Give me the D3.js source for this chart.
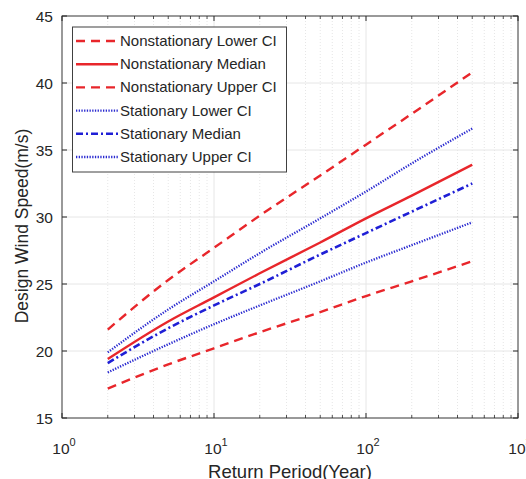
<!DOCTYPE html>
<html><head><meta charset="utf-8">
<script src="https://cdn.jsdelivr.net/npm/d3@7"></script>
<style>body{margin:0;background:#fff}svg{display:block}text{font-family:"Liberation Sans",Arial,sans-serif}</style>
</head><body>
<script>
const returnPeriods = [2, 5, 10, 20, 50, 100, 200, 500];
const nsLower  = [17.2, 19.0, 20.2, 21.4, 22.9, 24.1, 25.2, 26.7];
const nsMedian = [19.4, 22.2, 24.0, 25.8, 28.1, 29.9, 31.6, 33.9];
const nsUpper  = [21.6, 25.3, 27.7, 30.1, 33.1, 35.4, 37.7, 40.8];
const stLower  = [18.4, 20.5, 22.0, 23.4, 25.2, 26.6, 27.9, 29.6];
const stMedian = [19.1, 21.7, 23.4, 25.0, 27.2, 28.8, 30.4, 32.5];
const stUpper  = [19.9, 23.1, 25.2, 27.3, 29.9, 31.9, 34.0, 36.6];
const yTicks = [15, 20, 25, 30, 35, 40, 45];
const xTickExps = [0, 1, 2, 3];
const seriesNames = ["Nonstationary Lower CI","Nonstationary Median","Nonstationary Upper CI","Stationary Lower CI","Stationary Median","Stationary Upper CI"];

const W = 526, H = 479;
const m = {l: 62, r: 8, t: 16, b: 61};
const svg = d3.select("body").append("svg").attr("width", W).attr("height", H);
const x = d3.scaleLog().domain([1, 1000]).range([m.l, W - m.r]);
const y = d3.scaleLinear().domain([15, 45]).range([H - m.b, m.t]);
const x0 = m.l, x1 = W - m.r, y0 = H - m.b, y1 = m.t;

// minor grid
const minors = [];
for (let e = 0; e < 3; e++) for (let k = 2; k <= 9; k++) minors.push(k * Math.pow(10, e));
svg.append("g").selectAll("line").data(minors).join("line")
  .attr("x1", d => x(d)).attr("x2", d => x(d)).attr("y1", y0).attr("y2", y1)
  .attr("stroke", "#e0e0e0").attr("stroke-width", 0.8).attr("stroke-dasharray", "1,2");
// major grid
svg.append("g").selectAll("line").data(xTickExps.map(e => Math.pow(10, e))).join("line")
  .attr("x1", d => x(d)).attr("x2", d => x(d)).attr("y1", y0).attr("y2", y1)
  .attr("stroke", "#e6e6e6").attr("stroke-width", 1);
svg.append("g").selectAll("line").data(yTicks).join("line")
  .attr("x1", x0).attr("x2", x1).attr("y1", d => y(d)).attr("y2", d => y(d))
  .attr("stroke", "#e6e6e6").attr("stroke-width", 1);

// series
const line = d3.line().x((d, i) => x(returnPeriods[i])).y(d => y(d)).curve(d3.curveMonotoneX);
const series = [
  {v: nsLower,  c: "#e8262b", w: 2.4, dash: "9,6"},
  {v: nsMedian, c: "#e8262b", w: 2.4, dash: null},
  {v: nsUpper,  c: "#e8262b", w: 2.4, dash: "9,6"},
  {v: stLower,  c: "#2a2ad0", w: 2.3, dash: "1.3,1.4"},
  {v: stMedian, c: "#1f1fd6", w: 2.6, dash: "7,3,2,3"},
  {v: stUpper,  c: "#2a2ad0", w: 2.3, dash: "1.3,1.4"}
];
const drawOrder = [3, 5, 4, 0, 2, 1];
drawOrder.forEach(i => {
  const s = series[i];
  svg.append("path").datum(s.v).attr("d", line).attr("fill", "none")
    .attr("stroke", s.c).attr("stroke-width", s.w)
    .attr("stroke-dasharray", s.dash);
});

// axes frame and ticks (inward, MATLAB style)
const ax = svg.append("g").attr("stroke", "#262626").attr("stroke-width", 1);
ax.append("rect").attr("x", x0).attr("y", y1).attr("width", x1 - x0).attr("height", y0 - y1)
  .attr("fill", "none").attr("stroke", "#404040");
const xMaj = xTickExps.map(e => Math.pow(10, e));
[y0, y1].forEach((yy, j) => {
  const dir = j === 0 ? -1 : 1;
  xMaj.forEach(d => ax.append("line").attr("x1", x(d)).attr("x2", x(d)).attr("y1", yy).attr("y2", yy + dir * 5));
  minors.forEach(d => ax.append("line").attr("x1", x(d)).attr("x2", x(d)).attr("y1", yy).attr("y2", yy + dir * 3).attr("stroke-width", 0.8));
});
[x0, x1].forEach((xx, j) => {
  const dir = j === 0 ? 1 : -1;
  yTicks.forEach(d => ax.append("line").attr("x1", xx).attr("x2", xx + dir * 5).attr("y1", y(d)).attr("y2", y(d)));
});

// tick labels
svg.append("g").selectAll("text").data(yTicks).join("text")
  .attr("x", x0 - 9).attr("y", d => y(d) + 5.5).attr("text-anchor", "end")
  .attr("font-size", 15.5).attr("fill", "#262626").text(d => d);
const xl = svg.append("g").selectAll("text").data(xTickExps).join("text")
  .attr("x", d => x(Math.pow(10, d)) + 2).attr("y", y0 + 36).attr("text-anchor", "middle")
  .attr("font-size", 15.5).attr("fill", "#262626");
xl.append("tspan").text("10");
xl.append("tspan").attr("dy", -8).attr("font-size", 11).text(d => d);

// axis titles
svg.append("text").attr("x", (x0 + x1) / 2).attr("y", H - 1).attr("text-anchor", "middle")
  .attr("font-size", 18.5).attr("fill", "#262626").text("Return Period(Year)");
svg.append("text").attr("transform", `translate(28,226) rotate(-90)`)
  .attr("text-anchor", "middle").attr("font-size", 17.5).attr("fill", "#262626").text("Design Wind Speed(m/s)");

// legend
const lg = svg.append("g");
lg.append("rect").attr("x", 72.5).attr("y", 27).attr("width", 214).attr("height", 145)
  .attr("fill", "#fff").attr("stroke", "#404040").attr("stroke-width", 1);
seriesNames.forEach((name, i) => {
  const s = series[i];
  const yy = 41 + i * 23.2;
  lg.append("line").attr("x1", 76).attr("x2", 118).attr("y1", yy).attr("y2", yy)
    .attr("stroke", s.c).attr("stroke-width", s.w).attr("stroke-dasharray", s.dash);
  lg.append("text").attr("x", 120).attr("y", yy + 5).attr("font-size", 15)
    .attr("fill", "#262626").text(name);
});
</script>
</body></html>
